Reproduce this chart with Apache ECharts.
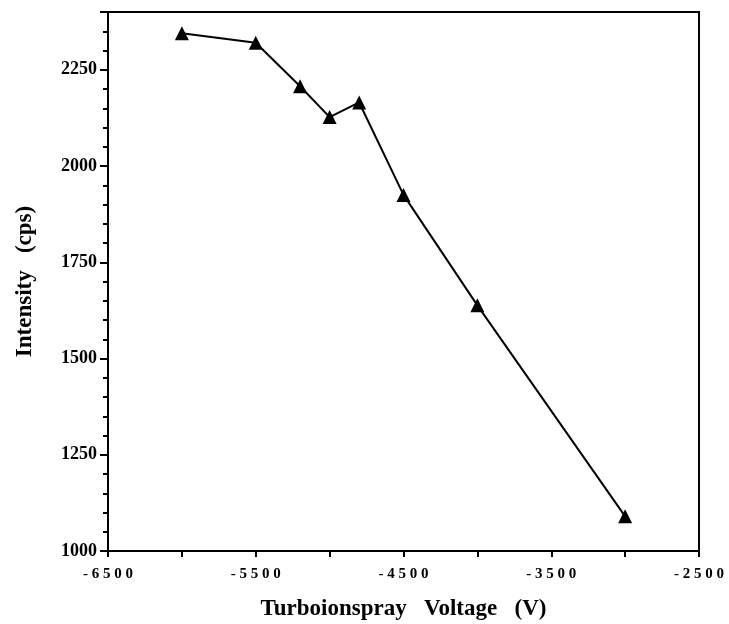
<!DOCTYPE html>
<html>
<head>
<meta charset="utf-8">
<script src="https://cdn.jsdelivr.net/npm/echarts@6/dist/echarts.min.js"></script>
<style>
  html, body { margin: 0; padding: 0; background: #fff; }
  #chart { width: 729px; height: 624px; }
</style>
</head>
<body>
<div id="chart"></div>
<script>
// Voltage (V) vs intensity (cps)
const voltages = [-6000, -5500, -5200, -5000, -4800, -4500, -4000, -3000];
const intensities = [2345, 2320, 2207, 2127, 2165, 1925, 1638, 1090];

const serif = '"Liberation Serif", "Times New Roman", serif';

const chart = echarts.init(document.getElementById('chart'));

const option = {
  backgroundColor: '#fff',
  animation: false,
  grid: {
    left: 108,
    right: 30,
    top: 12,
    bottom: 73,
    containLabel: false,
    outerBoundsMode: 'none',
    show: true,
    borderColor: '#000',
    borderWidth: 2
  },
  xAxis: {
    type: 'value',
    min: -6500,
    max: -2500,
    interval: 500,
    name: 'Turboionspray   Voltage   (V)',
    nameLocation: 'middle',
    nameGap: 47,
    nameTextStyle: {fontFamily: serif, fontWeight: 'bold', fontSize: 23, color: '#000'},
    axisLine: {lineStyle: {color: '#000', width: 2}},
    axisTick: {length: 6, lineStyle: {color: '#000', width: 2}},
    axisLabel: {
      margin: 16,
      fontFamily: serif,
      fontWeight: 'bold',
      fontSize: 15,
      color: '#000',
      formatter: (v) => ((v + 6500) % 1000 === 0 ? String(v).split('').join(' ') : '')
    },
    splitLine: {show: false}
  },
  yAxis: {
    type: 'value',
    min: 1000,
    max: 2400,
    interval: 250,
    name: 'Intensity   (cps)',
    nameLocation: 'middle',
    nameGap: 71,
    nameTextStyle: {fontFamily: serif, fontWeight: 'bold', fontSize: 23, color: '#000'},
    axisLine: {lineStyle: {color: '#000', width: 2}},
    axisTick: {length: 8, lineStyle: {color: '#000', width: 2}},
    minorTick: {show: true, splitNumber: 5, length: 5, lineStyle: {color: '#000', width: 2}},
    axisLabel: {
      margin: 11,
      showMaxLabel: false,
      fontFamily: serif,
      fontWeight: 'bold',
      fontSize: 18,
      color: '#000',
      formatter: (v) => String(v)
    },
    splitLine: {show: false}
  },
  series: [
    {
      type: 'line',
      data: voltages.map((v, i) => [v, intensities[i]]),
      symbol: 'triangle',
      symbolSize: 14,
      lineStyle: {color: '#000', width: 2},
      itemStyle: {color: '#000'}
    }
  ]
};

chart.setOption(option);
</script>
</body>
</html>
